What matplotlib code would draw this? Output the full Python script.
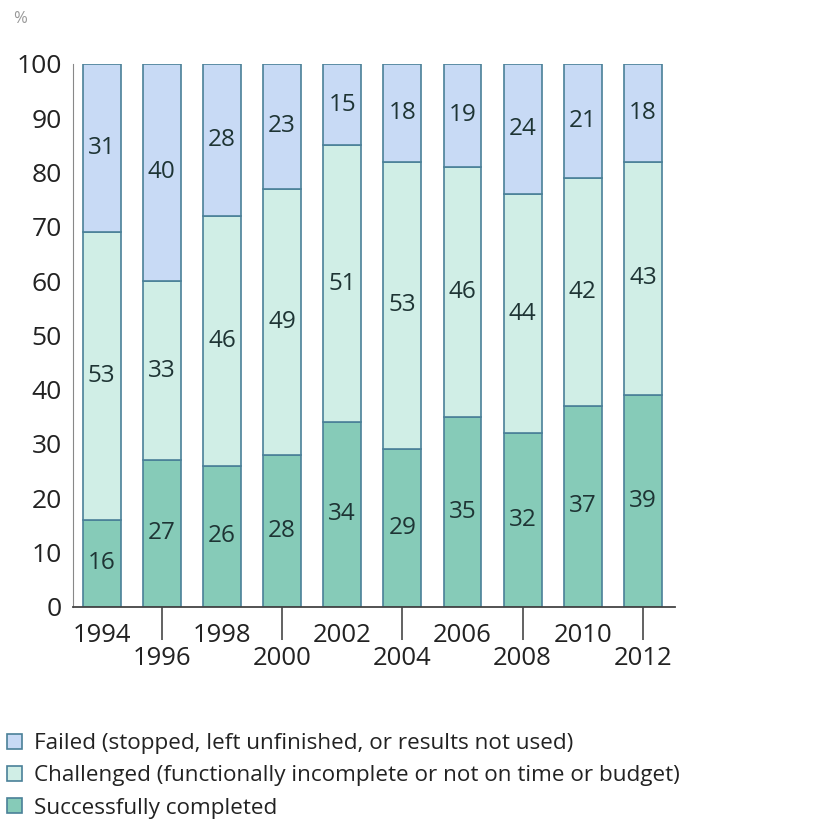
import matplotlib.pyplot as plt
import numpy as np

# project outcomes by survey year (%)
years = ['1994', '1996', '1998', '2000', '2002', '2004', '2006', '2008', '2010', '2012']
success = [16, 27, 26, 28, 34, 29, 35, 32, 37, 39]
challenged = [53, 33, 46, 49, 51, 53, 46, 44, 42, 43]
failed = [31, 40, 28, 23, 15, 18, 19, 24, 21, 18]

labels = ['Failed (stopped, left unfinished, or results not used)',
          'Challenged (functionally incomplete or not on time or budget)',
          'Successfully completed']

plt.rcParams['font.family'] = ['Open Sans', 'DejaVu Sans']

c_fail = '#c8daf5'
c_chal = '#d0eee6'
c_succ = '#86cbb8'
edge = '#4a8098'
txt = '#1e3434'

fig = plt.figure(figsize=(8.27, 8.30), dpi=100)
ax = fig.add_axes([0.088, 0.269, 0.728, 0.654])

x = np.arange(len(years))
w = 0.63
succ = np.array(success)
chal = np.array(challenged)
fail = np.array(failed)

b1 = ax.bar(x, succ, w, color=c_succ, edgecolor=edge, linewidth=1.2)
b2 = ax.bar(x, chal, w, bottom=succ, color=c_chal, edgecolor=edge, linewidth=1.2)
b3 = ax.bar(x, fail, w, bottom=succ + chal, color=c_fail, edgecolor=edge, linewidth=1.2)

for vals, base in [(succ, np.zeros(len(x))), (chal, succ), (fail, succ + chal)]:
    for i in range(len(vals)):
        ax.text(x[i], base[i] + vals[i] / 2, str(vals[i]),
                ha='center', va='center', fontsize=17.5, color=txt)

ax.set_xlim(-0.48, len(years) - 1 + 0.53)
ax.set_ylim(0, 100)
ax.set_yticks(range(0, 101, 10))
ax.tick_params(axis='y', length=0, labelsize=19, pad=8, labelcolor='#222222')

ax.xaxis.remove_overlapping_locs = False
ax.set_xticks(x)
ax.set_xticklabels([y if i % 2 == 0 else '\n' + y for i, y in enumerate(years)])
ax.tick_params(axis='x', which='major', length=0, labelsize=18.5, pad=12, labelcolor='#222222')
for lbl in ax.get_xticklabels():
    lbl.set_linespacing(0.88)
ax.set_xticks(x[1::2], minor=True)
ax.tick_params(axis='x', which='minor', length=24, width=1.3, color='#555555')

for s in ['top', 'right']:
    ax.spines[s].set_visible(False)
ax.spines['left'].set_color('#888888')
ax.spines['bottom'].set_color('#444444')
ax.spines['bottom'].set_linewidth(1.3)

fig.text(0.016, 0.977, '%', fontsize=12, color='#999999', va='center')

fig.legend([b3, b2, b1], labels, loc='upper left', bbox_to_anchor=(-0.016, 0.141),
           frameon=False, fontsize=16.2, handlelength=0.65, handleheight=0.65,
           handletextpad=0.55, labelspacing=0.5, labelcolor='#222222')

plt.savefig('out.png')
